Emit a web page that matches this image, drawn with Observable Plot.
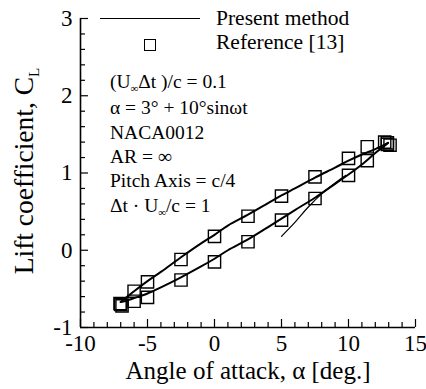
<!DOCTYPE html>
<html>
<head>
<meta charset="utf-8">
<script src="https://cdn.jsdelivr.net/npm/d3@7"></script>
<script src="https://cdn.jsdelivr.net/npm/@observablehq/plot@0.6"></script>
<style>
  html, body { margin: 0; padding: 0; background: #fff; }
  #wrap { position: relative; width: 426px; height: 389px; font-family: "Liberation Serif", "Times New Roman", serif; color: #000; overflow: hidden; }
  #wrap > svg { position: absolute; left: 0; top: 0; }
  .ov { position: absolute; white-space: nowrap; line-height: 1; }
  .sub { font-size: 0.55em; position: relative; top: 0.42em; }
</style>
</head>
<body>
<div id="wrap"></div>
<script>
// ---- tick positions and labels ----
const xMajorTicks = [-10, -5, 0, 5, 10, 15];
const xMinorTicks = [-9, -8, -7, -6, -4, -3, -2, -1, 1, 2, 3, 4, 6, 7, 8, 9, 11, 12, 13, 14];
const yMajorTicks = [-1, 0, 1, 2, 3];
const yMinorTicks = [-0.8, -0.6, -0.4, -0.2, 0.2, 0.4, 0.6, 0.8, 1.2, 1.4, 1.6, 1.8, 2.2, 2.4, 2.6, 2.8];

// ---- present method: start-up transient ----
const startAlpha = [5.0, 6.0, 7.0, 8.0, 9.0, 9.8];
const startCL    = [0.18, 0.36, 0.56, 0.73, 0.87, 0.97];

// ---- present method: upstroke (lower branch) ----
const upAlpha = [-7, -6.5, -6, -5, -4, -2.5, -1, 0, 1, 2.5, 4, 5, 6, 7.5, 9, 10, 11, 12, 12.6, 12.95];
const upCL    = [-0.67, -0.65, -0.62, -0.56, -0.48, -0.35, -0.21, -0.11, 0.00, 0.14, 0.30, 0.41, 0.52, 0.68, 0.86, 0.98, 1.11, 1.26, 1.34, 1.39];

// ---- present method: downstroke (upper branch) ----
const downAlpha = [12.95, 12, 11, 10, 9, 7.5, 6, 5, 4, 2.5, 1, 0, -1, -2.5, -4, -5, -6, -6.5, -7];
const downCL    = [1.39, 1.31, 1.24, 1.16, 1.07, 0.94, 0.80, 0.71, 0.61, 0.46, 0.32, 0.20, 0.09, -0.09, -0.28, -0.40, -0.53, -0.60, -0.67];

// ---- reference [13] squares ----
const refAlpha = [12.9, 11.4, 10, 7.5, 5, 2.5, 0, -2.5, -5, -6, -7,
                  -6, -5, -2.5, 0, 2.5, 5, 7.5, 10, 11.4, 12.9,
                  12.7, 13.1, -6.9, -7.05];
const refCL    = [1.39, 1.34, 1.19, 0.95, 0.70, 0.44, 0.18, -0.12, -0.41, -0.53, -0.70,
                  -0.66, -0.61, -0.385, -0.15, 0.11, 0.39, 0.67, 0.97, 1.16, 1.37,
                  1.40, 1.36, -0.72, -0.69];

// ---- texts ----
const xLabel = "Angle of attack, α [deg.]";
const yLabelParts = ["Lift coefficient, C", "L"];
const legendLabels = ["Present method", "Reference [13]"];
const annotationLines = [
  [["(U", ""], ["∞", "sub"], ["Δt )/c = 0.1", ""]],
  [["α = 3° + 10°sinωt", ""]],
  [["NACA0012", ""]],
  [["AR = ∞", ""]],
  [["Pitch Axis = c/4", ""]],
  [["Δt · U", ""], ["∞", "sub"], ["/c = 1", ""]]
];

const font = '"Liberation Serif", "Times New Roman", serif';

const startRows = startAlpha.map((a, i) => ({alpha: a, cl: startCL[i]}));
const loopRows = [
  ...upAlpha.map((a, i) => ({branch: "up", alpha: a, cl: upCL[i]})),
  ...downAlpha.map((a, i) => ({branch: "down", alpha: a, cl: downCL[i]}))
];
const refRows = refAlpha.map((a, i) => ({alpha: a, cl: refCL[i]}));

const chart = Plot.plot({
  width: 426,
  height: 389,
  marginLeft: 80,
  marginRight: 11,
  marginTop: 18,
  marginBottom: 62,
  x: {domain: [-10, 15]},
  y: {domain: [-1, 3]},
  style: {fontFamily: font, color: "black", background: "transparent", overflow: "visible"},
  marks: [
    // inward ticks (no labels)
    Plot.axisX(xMinorTicks, {tickSize: -5, tickFormat: () => "", label: null, strokeWidth: 1.2}),
    Plot.axisX(xMajorTicks, {tickSize: -8, tickFormat: () => "", label: null, strokeWidth: 1.2}),
    Plot.axisY(yMinorTicks, {tickSize: -5, tickFormat: () => "", label: null, strokeWidth: 1.2}),
    Plot.axisY(yMajorTicks, {tickSize: -8, tickFormat: () => "", label: null, strokeWidth: 1.2}),
    // tick labels
    Plot.axisX(xMajorTicks, {tickSize: 0, tickPadding: 7, tickFormat: d => String(d), label: null, fontSize: 23}),
    Plot.axisY(yMajorTicks, {tickSize: 0, tickPadding: 8, tickFormat: d => String(d), label: null, fontSize: 23}),
    // axis lines
    Plot.ruleY([-1], {strokeWidth: 1.6}),
    Plot.ruleX([-10], {strokeWidth: 1.6}),
    // data
    Plot.line(startRows, {x: "alpha", y: "cl", stroke: "black", strokeWidth: 1.2, curve: "catmull-rom"}),
    Plot.line(loopRows, {x: "alpha", y: "cl", z: "branch", stroke: "black", strokeWidth: 2, curve: "catmull-rom"}),
    Plot.dot(refRows, {x: "alpha", y: "cl", symbol: "square", r: 6.9, stroke: "black", strokeWidth: 1.4, fill: "none"}),
    // x-axis title
    Plot.text([xLabel], {text: d => d, frameAnchor: "bottom", dy: 51, fontSize: 25, fill: "black"})
  ]
});

const wrap = document.getElementById("wrap");
wrap.appendChild(chart);

function addDiv(html, css) {
  const d = document.createElement("div");
  d.className = "ov";
  d.innerHTML = html;
  Object.assign(d.style, css);
  wrap.appendChild(d);
  return d;
}

// y-axis label (rotated)
addDiv(`${yLabelParts[0]}<span class="sub">${yLabelParts[1]}</span>`, {
  left: "24px", top: "171px", fontSize: "27.5px",
  transform: "translate(-50%, -50%) rotate(-90deg)"
});

// legend
addDiv("", {left: "100px", top: "17.5px", width: "100px", height: "1.6px", background: "#000"});
addDiv("", {left: "143.5px", top: "38.5px", width: "10.2px", height: "10.2px", border: "1.4px solid #000", boxSizing: "content-box"});
addDiv(legendLabels[0], {left: "216px", top: "7.7px", fontSize: "21.5px"});
addDiv(legendLabels[1], {left: "216px", top: "32px", fontSize: "21.5px"});

// annotation block
const ann = annotationLines.map(line =>
  line.map(([t, cls]) => cls ? `<span class="${cls}">${t}</span>` : t).join("")
).join("<br>");
addDiv(ann, {left: "110px", top: "69.7px", fontSize: "19.5px", lineHeight: "24.4px"});
</script>
</body>
</html>
